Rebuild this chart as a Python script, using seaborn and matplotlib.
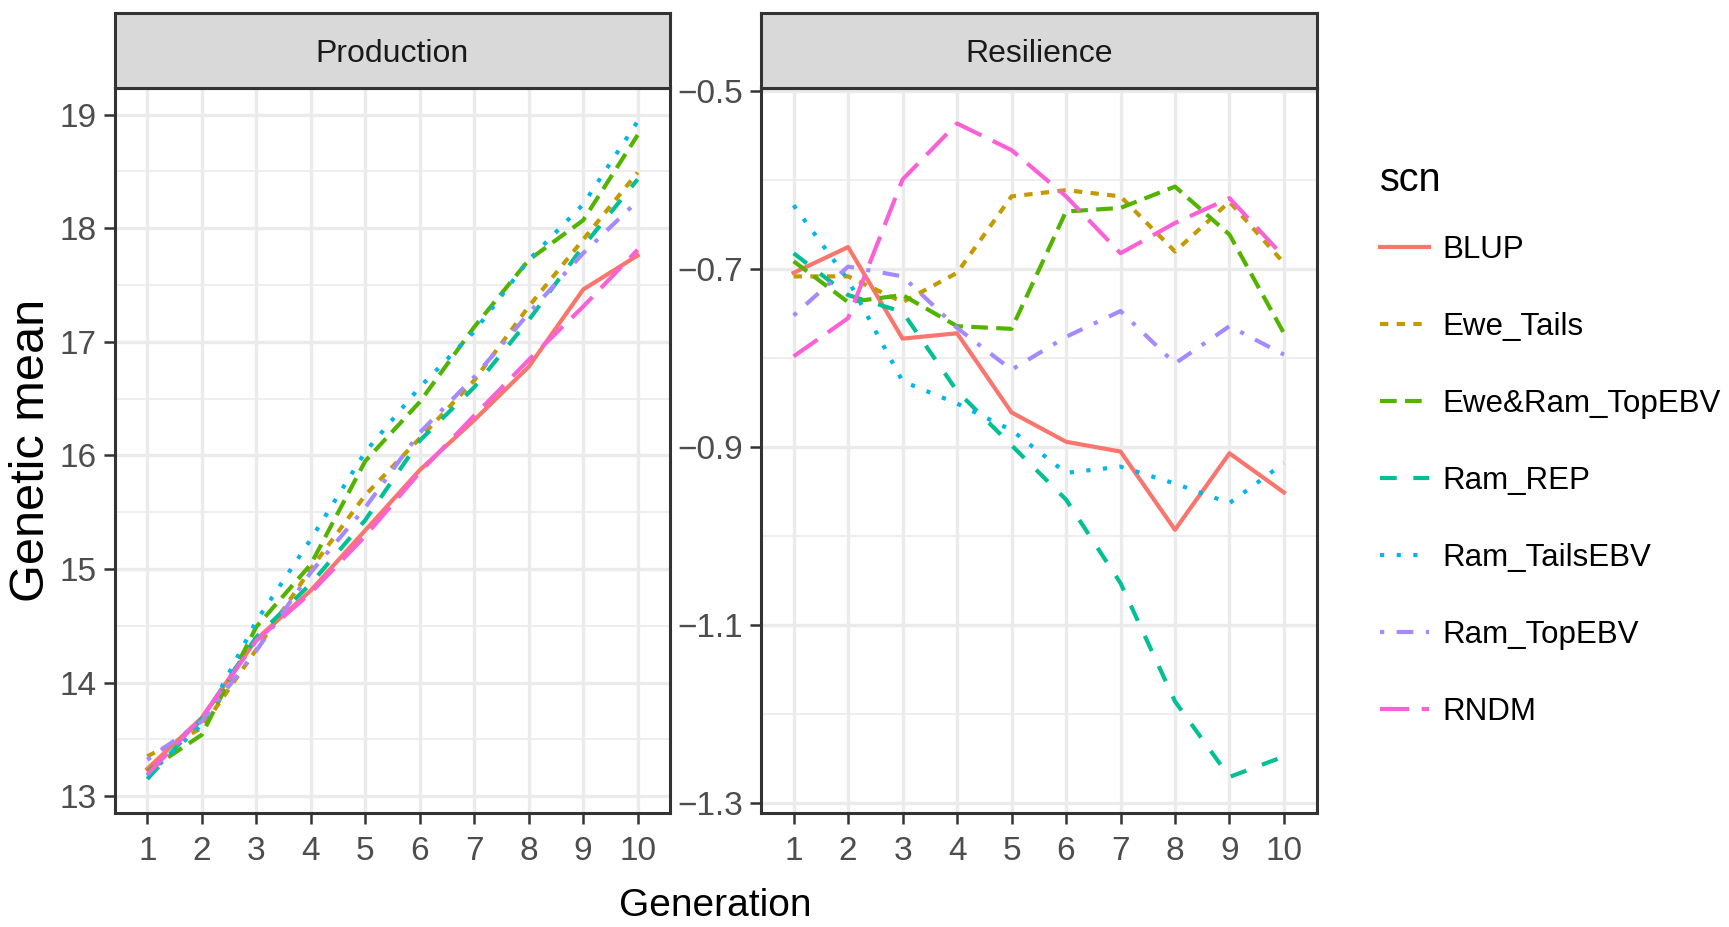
import matplotlib

matplotlib.use('Agg')
import matplotlib.pyplot as plt
import pandas as pd
import seaborn as sns
from matplotlib.lines import Line2D
from matplotlib.ticker import FixedLocator

# values
generations = [1, 2, 3, 4, 5, 6, 7, 8, 9, 10]
scenarios = ['BLUP', 'Ewe_Tails', 'Ewe&Ram_TopEBV', 'Ram_REP', 'Ram_TailsEBV', 'Ram_TopEBV', 'RNDM']
traits = ['Production', 'Resilience']

prod_blup = [13.24, 13.69, 14.38, 14.81, 15.34, 15.87, 16.31, 16.78, 17.46, 17.76]
prod_ewe_tails = [13.35, 13.60, 14.29, 15.00, 15.65, 16.15, 16.66, 17.31, 17.90, 18.49]
prod_ewe_ram_top = [13.22, 13.54, 14.49, 15.04, 15.95, 16.47, 17.13, 17.72, 18.07, 18.82]
prod_ram_rep = [13.15, 13.68, 14.40, 14.87, 15.43, 16.13, 16.60, 17.19, 17.84, 18.43]
prod_ram_tails = [13.18, 13.63, 14.54, 15.26, 16.03, 16.60, 17.09, 17.72, 18.21, 18.94]
prod_ram_top = [13.32, 13.66, 14.28, 14.97, 15.54, 16.20, 16.69, 17.25, 17.78, 18.24]
prod_rndm = [13.19, 13.69, 14.37, 14.79, 15.29, 15.85, 16.35, 16.84, 17.31, 17.81]

res_blup = [-0.704, -0.675, -0.778, -0.772, -0.861, -0.894, -0.905, -0.993, -0.907, -0.951]
res_ewe_tails = [-0.708, -0.708, -0.737, -0.704, -0.618, -0.611, -0.618, -0.680, -0.624, -0.693]
res_ewe_ram_top = [-0.691, -0.737, -0.729, -0.764, -0.767, -0.635, -0.631, -0.607, -0.661, -0.772]
res_ram_rep = [-0.682, -0.729, -0.748, -0.837, -0.898, -0.959, -1.053, -1.186, -1.271, -1.248]
res_ram_tails = [-0.628, -0.712, -0.826, -0.851, -0.881, -0.929, -0.922, -0.941, -0.963, -0.918]
res_ram_top = [-0.752, -0.697, -0.708, -0.766, -0.813, -0.776, -0.747, -0.806, -0.764, -0.796]
res_rndm = [-0.798, -0.755, -0.599, -0.536, -0.566, -0.618, -0.682, -0.648, -0.620, -0.686]

prod_ticks = [13, 14, 15, 16, 17, 18, 19]
prod_minor = [13.5, 14.5, 15.5, 16.5, 17.5, 18.5]
res_ticks = [-1.3, -1.1, -0.9, -0.7, -0.5]
res_minor = [-1.2, -1.0, -0.8, -0.6]

palette = ['#F8766D', '#C49A00', '#53B400', '#00C094', '#00B6EB', '#A58AFF', '#FB61D7']
dash_list = ['', (2, 2), (4, 2), (4, 4), (1, 3), (1, 3, 4, 3), (7, 3)]

prod_series = [prod_blup, prod_ewe_tails, prod_ewe_ram_top, prod_ram_rep,
               prod_ram_tails, prod_ram_top, prod_rndm]
res_series = [res_blup, res_ewe_tails, res_ewe_ram_top, res_ram_rep,
              res_ram_tails, res_ram_top, res_rndm]

rows = []
for trait, series in zip(traits, [prod_series, res_series]):
    for scn, values in zip(scenarios, series):
        for gen, val in zip(generations, values):
            rows.append({'trait': trait, 'scn': scn, 'generation': gen, 'value': val})
df = pd.DataFrame(rows)

plt.rcParams['font.family'] = ['Liberation Sans', 'DejaVu Sans']

LW = 3.0
BORDER = '#333333'
GRID = '#EBEBEB'

fig = plt.figure(figsize=(17.29, 9.27), dpi=100)
panel_rects = [[0.0663, 0.1233, 0.3214, 0.7816], [0.4401, 0.1233, 0.3214, 0.7816]]
ylims = [(12.854, 19.233), (-1.3112, -0.4963)]
majors = [prod_ticks, res_ticks]
minors = [prod_minor, res_minor]

for trait, rect, ylim, major, minor in zip(traits, panel_rects, ylims, majors, minors):
    ax = fig.add_axes(rect)
    sub = df[df['trait'] == trait]
    sns.lineplot(
        data=sub, x='generation', y='value', hue='scn', style='scn',
        hue_order=scenarios, style_order=scenarios,
        palette=palette, dashes=dict(zip(scenarios, dash_list)),
        linewidth=LW, ax=ax, legend=False,
    )
    ax.set_xlim(0.4, 10.6)
    ax.set_ylim(*ylim)
    ax.set_xticks(generations)
    ax.yaxis.set_major_locator(FixedLocator(major))
    ax.yaxis.set_minor_locator(FixedLocator(minor))
    ax.set_xlabel('')
    ax.set_ylabel('')
    ax.set_axisbelow(True)
    ax.grid(which='major', color=GRID, linewidth=2.4)
    ax.grid(which='minor', axis='y', color=GRID, linewidth=1.2)
    ax.tick_params(which='major', length=8, width=1.8, color=BORDER,
                   labelcolor='#4D4D4D', labelsize=24, pad=5)
    ax.tick_params(axis='x', which='major', pad=9)
    ax.tick_params(which='minor', length=0)
    for spine in ax.spines.values():
        spine.set_color(BORDER)
        spine.set_linewidth(2.2)

    sax = fig.add_axes([rect[0], 0.9049, rect[2], 0.0809])
    sax.set_facecolor('#D9D9D9')
    sax.set_xticks([])
    sax.set_yticks([])
    for spine in sax.spines.values():
        spine.set_color(BORDER)
        spine.set_linewidth(2.2)
    sax.text(0.5, 0.46, trait, ha='center', va='center', fontsize=23,
             color='#1A1A1A', transform=sax.transAxes)

fig.text(0.0185, 0.5146, 'Genetic mean', rotation=90, ha='center', va='center',
         fontsize=35)
fig.text(0.4139, 0.0227, 'Generation', ha='center', va='center', fontsize=28)

handles = []
for color, dash in zip(palette, dash_list):
    style = (0, dash) if dash else '-'
    handles.append(Line2D([], [], color=color, linewidth=LW, linestyle=style))
leg = fig.legend(
    handles, scenarios, title='scn', loc='upper left',
    bbox_to_anchor=(0.798, 0.826), frameon=False, fontsize=22.5,
    title_fontsize=28.5, handlelength=1.57, handletextpad=0.43,
    labelspacing=1.5, borderpad=0, borderaxespad=0, alignment='left',
)
# tighter gap (in points) between the title and the first key, as in the reference
leg._legend_box.sep = 26

plt.savefig('out.png', dpi=100)
plt.close()
